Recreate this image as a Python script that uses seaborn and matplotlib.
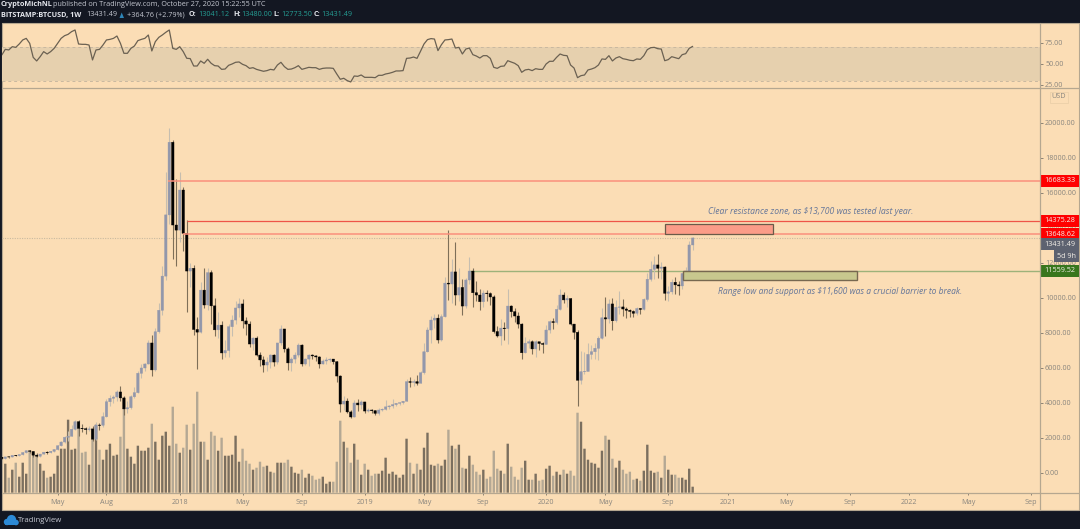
import matplotlib
matplotlib.use('Agg')
import matplotlib.pyplot as plt
from matplotlib.patches import Rectangle, Circle, Polygon
import pandas as pd
import seaborn as sns

# BITSTAMP:BTCUSD weekly, first candle is the week of 2017-01-09
first_open = 900
closes = [
    830, 920, 915, 1010, 1000, 1050, 1170, 1270, 1230, 1020, 960, 1080, 1190, 1170, 1240, 1340,
    1560, 1770, 2040, 2100, 2500, 2930, 2550, 2530, 2480, 2520, 1930, 2740, 2730, 3220, 4070, 4270,
    4340, 4630, 4290, 3660, 3730, 4360, 4590, 5700, 6000, 6230, 7430, 5890, 8070, 9300, 11250, 14750,
    18900, 14170, 13880, 16170, 13700, 11540, 11700, 8200, 8050, 10450, 9600, 11450, 9550, 8180, 8450, 6860,
    7000, 8360, 8740, 9430, 9660, 8690, 8510, 7370, 7710, 6740, 6460, 6170, 6340, 6740, 6340, 7430,
    8230, 7090, 6290, 6510, 6740, 7310, 6230, 6510, 6740, 6690, 6630, 6230, 6400, 6460, 6510, 6360,
    5540, 3940, 4110, 3490, 3200, 4000, 3890, 4060, 3540, 3600, 3560, 3410, 3600, 3640, 3780, 3830,
    3910, 3980, 4020, 4100, 5220, 5180, 5220, 5130, 5730, 6930, 8170, 8740, 8850, 7600, 8930, 10850,
    10800, 11490, 10170, 10600, 9540, 11030, 11540, 10300, 10170, 9790, 10280, 10250, 10060, 8080, 7830, 8280,
    8250, 9540, 9220, 8970, 8510, 6870, 7420, 7500, 7090, 7500, 7400, 7350, 8170, 8650, 8600, 9350,
    10170, 9890, 9970, 8510, 8040, 5300, 5790, 5800, 6780, 6930, 7130, 7700, 8870, 8800, 9660, 8700,
    9470, 9490, 9370, 9300, 9230, 9130, 9400, 9350, 9920, 11070, 11640, 11890, 11700, 11770, 10270, 10350,
    10900, 10750, 10690, 11400, 11540, 13030, 13431]
highs = [
    910, 930, 935, 1025, 1050, 1060, 1190, 1300, 1330, 1250, 1130, 1100, 1210, 1240, 1270, 1370,
    1620, 1810, 2130, 2400, 2750, 3000, 3000, 2780, 2620, 2690, 2700, 2900, 2870, 3480, 4230, 4450,
    4480, 4740, 4980, 4400, 4120, 4450, 4900, 5850, 6200, 6300, 7600, 7900, 8300, 9700, 11800, 17200,
    19700, 19000, 16800, 17200, 16340, 14450, 12000, 11900, 8900, 10900, 11700, 11700, 11600, 10000, 9200, 8700,
    7600, 8500, 9000, 9800, 10000, 9950, 8900, 8700, 7780, 7800, 6900, 6700, 6650, 6800, 6800, 7450,
    8480, 8250, 7180, 6600, 6900, 7400, 7370, 6550, 6780, 6790, 6740, 6700, 6500, 6600, 6550, 6530,
    6400, 5620, 4400, 4270, 3600, 4180, 4250, 4150, 4080, 3730, 3650, 3620, 3690, 3720, 4170, 3900,
    4210, 4020, 4070, 4120, 5350, 5470, 5360, 5620, 5800, 7450, 8350, 8990, 9080, 9100, 9070, 11200,
    13880, 12200, 13200, 11700, 11100, 11150, 12360, 11700, 10950, 10500, 10450, 10450, 10350, 10150, 8420, 8820,
    8650, 10540, 9600, 9400, 9180, 8560, 7770, 7650, 7600, 7590, 7500, 7480, 8450, 8750, 8870, 9580,
    10500, 10350, 10170, 9980, 8350, 8190, 6980, 6900, 7450, 7300, 7450, 7800, 9450, 10080, 9950, 10000,
    9900, 10400, 9950, 9480, 9350, 9300, 9480, 9400, 10000, 11430, 12100, 12400, 12490, 12080, 11800, 10680,
    11100, 11180, 10980, 11450, 11790, 13230, 13480]
lows = [
    800, 790, 880, 905, 950, 985, 1040, 1150, 1130, 940, 890, 890, 1080, 1110, 1160, 1210,
    1340, 1520, 1730, 1850, 2090, 2460, 2100, 2330, 2250, 2420, 1830, 1860, 2470, 2650, 3200, 3850,
    3990, 4100, 4100, 3300, 3420, 3660, 4300, 4550, 5400, 5800, 6200, 5550, 5800, 8000, 9000, 11000,
    14200, 12200, 11800, 13200, 12700, 9200, 10600, 7900, 5920, 8000, 9400, 9300, 8500, 7800, 7700, 6500,
    6600, 6610, 7820, 8500, 8900, 8300, 7900, 7200, 7040, 6700, 6130, 5780, 5800, 6000, 6100, 6250,
    7300, 6900, 5900, 5850, 6300, 6650, 6100, 6160, 6120, 6500, 6400, 6000, 6200, 6220, 6350, 6250,
    5200, 3500, 3600, 3400, 3150, 3180, 3550, 3650, 3450, 3480, 3450, 3300, 3330, 3550, 3600, 3630,
    3700, 3850, 3880, 3950, 4090, 4900, 4950, 5040, 5120, 5650, 6900, 7450, 8300, 7440, 7550, 8900,
    9900, 9700, 9600, 9800, 9050, 9400, 10800, 9500, 9800, 9300, 9500, 9850, 9600, 8000, 7750, 7300,
    7600, 7350, 8900, 8650, 8300, 6500, 6850, 7150, 6800, 6600, 7000, 6850, 7350, 8000, 8250, 8530,
    9300, 9700, 9500, 8450, 7650, 3850, 5100, 5650, 5900, 6530, 6500, 6450, 7630, 7800, 8550, 8150,
    8600, 9100, 8950, 8830, 8900, 8900, 9050, 9100, 9300, 9850, 10950, 11100, 11150, 11100, 9900, 9820,
    10250, 10200, 10150, 10500, 11150, 11200, 12770]
volumes = [
    43, 29, 15, 23, 30, 16, 30, 19, 41, 40, 38, 29, 22, 15, 16, 19, 37, 44, 44, 73, 43, 44, 71, 40, 41, 28, 53, 68,
    43, 33, 43, 49, 37, 38, 56, 84, 44, 36, 29, 47, 42, 42, 45, 69, 51, 33, 57, 61, 47, 86, 49, 40, 45, 68, 43, 69, 101,
    51, 51, 33, 61, 57, 42, 55, 37, 37, 38, 57, 31, 44, 32, 29, 23, 25, 31, 26, 27, 21, 20, 30, 30, 30, 33, 26, 20, 19,
    23, 15, 19, 17, 13, 14, 16, 9, 11, 11, 31, 72, 51, 45, 30, 49, 33, 18, 29, 23, 17, 19, 19, 22, 35, 19, 21, 18, 15,
    18, 54, 30, 19, 29, 23, 45, 60, 28, 27, 29, 27, 33, 63, 47, 44, 48, 25, 24, 37, 28, 21, 18, 23, 14, 16, 42, 24, 22,
    19, 49, 26, 16, 13, 25, 32, 13, 13, 19, 12, 13, 24, 27, 17, 21, 18, 23, 19, 22, 17, 80, 71, 44, 33, 30, 29, 25, 42,
    57, 53, 34, 25, 32, 23, 19, 21, 13, 14, 12, 22, 48, 22, 20, 21, 15, 37, 23, 18, 18, 15, 15, 13, 24, 6]
rsi = [
    60.7, 67.4, 66.7, 70.6, 69.8, 73.8, 78.6, 80.5, 74.6, 57.9, 53.6, 58.7, 64.7, 61.9, 64.7, 68.6, 74.6, 80.5,
    83.7, 85.3, 88.5, 90.5, 73.8, 73.4, 73.4, 72.6, 54.8, 66.7, 67.4, 72.6, 78.6, 79.3, 80.5, 83.3, 74.6, 62.7,
    62.7, 68.6, 71.4, 77.8, 79.3, 80.5, 84.5, 65.5, 76.6, 81.7, 84.5, 87.7, 90.5, 68.6, 67.4, 70.6, 64.7, 56.8,
    56.4, 47.6, 47.6, 53.6, 50.8, 55.6, 50.8, 48.0, 47.6, 43.6, 44.0, 48.4, 50.0, 52.0, 52.4, 49.6, 48.0, 44.8,
    45.6, 43.6, 42.5, 41.3, 42.1, 43.6, 42.9, 48.8, 52.0, 46.8, 43.6, 44.0, 45.6, 48.0, 43.6, 44.8, 46.0, 45.6,
    45.6, 43.6, 44.8, 45.2, 45.2, 44.8, 38.1, 31.8, 33.0, 30.2, 28.6, 35.7, 35.3, 36.9, 34.1, 34.1, 34.1, 33.7,
    36.5, 36.5, 38.1, 38.9, 40.1, 41.7, 41.7,
    42.1, 56.7, 57.1, 58.3, 56.7, 65.1, 73.8, 79.0, 80.2, 79.7, 65.9, 73.0, 78.6, 79.0, 79.7, 69.0, 69.8, 61.9,
    67.8, 69.0, 61.1, 59.5, 57.1, 59.9, 59.9, 56.7, 46.0, 44.8, 47.2, 47.6, 53.9, 52.4, 50.8, 48.0, 40.1, 42.9,
    43.6, 42.1, 44.4, 43.6, 43.6, 50.0, 53.2, 53.2, 57.9, 61.9, 60.3, 59.9, 48.8, 45.2, 33.7, 36.1, 36.9, 42.9,
    44.0, 45.6, 48.8, 56.0, 55.5, 59.9, 53.6, 57.1, 58.7, 56.3, 55.5, 54.4, 53.9, 56.0, 55.5, 59.9, 67.1, 69.4,
    69.8, 68.2, 67.8, 53.9, 55.2, 58.7, 57.5, 56.3, 61.1, 62.3, 68.6, 71.0]

# x axis ticks, as week numbers counted from the first candle
tick_weeks = [16, 30, 51, 69, 86, 104, 121, 138, 156, 173, 191, 208, 225, 243, 260, 277, 295]
tick_labels = ['May', 'Aug', '2018', 'May', 'Sep', '2019', 'May', 'Sep', '2020', 'May', 'Sep', '2021',
               'May', 'Sep', '2022', 'May', 'Sep']
price_ticks = [0, 2000, 4000, 6000, 8000, 10000, 12000, 14000, 16000, 18000, 20000]
rsi_ticks = [25, 50, 75]

BG = '#FBDDB5'
DARK = '#131722'
GRID = '#B5A790'
AXIS_TEXT = '#8A867E'
UP = '#9297AB'
DOWN = '#000000'
UP_WICK = '#C6BEB0'
DOWN_WICK = '#7E6F58'
FONT = 'Open Sans'
SMALL = 5.25

sns.set_theme(style='white')
plt.rcParams['font.family'] = [FONT, 'DejaVu Sans']

weeks = list(range(len(closes)))
opens = [first_open] + closes[:-1]
df = pd.DataFrame({'week': weeks, 'open': opens, 'high': highs, 'low': lows, 'close': closes,
                   'volume': volumes, 'rsi': rsi})
df['up'] = df['close'] >= df['open']

fig = plt.figure(figsize=(10.8, 5.29), dpi=100, facecolor=DARK)


def pane(x0, y0, x1, y1):
    return fig.add_axes([x0 / 1080, (529 - y1) / 529, (x1 - x0) / 1080, (y1 - y0) / 529])


# chrome layer in pixel coordinates
chrome = fig.add_axes([0, 0, 1, 1], zorder=0)
chrome.set_xlim(0, 1080)
chrome.set_ylim(529, 0)
chrome.axis('off')
chrome.add_patch(Rectangle((1.5, 23), 1077, 487, facecolor=BG, edgecolor=GRID, linewidth=0.8))

X_LIM = (0.06, 297.4)

# RSI pane
ax_rsi = pane(2, 23.5, 1039.5, 87.5)
ax_rsi.set_zorder(3)
ax_rsi.patch.set_visible(False)
ax_rsi.axhspan(30, 70, color='#E6D0AE', zorder=1, linewidth=0)
ax_rsi.axhline(70, color='#C9B8A0', linestyle=(0, (3, 3)), linewidth=0.7, zorder=2)
ax_rsi.axhline(30, color='#C9B8A0', linestyle=(0, (3, 3)), linewidth=0.7, zorder=2)
sns.lineplot(data=df, x='week', y='rsi', ax=ax_rsi, color='#6B6152', linewidth=0.9, zorder=3)
ax_rsi.set_xlim(*X_LIM)
ax_rsi.set_ylim(22.0, 98.2)
ax_rsi.set_xticks([])
ax_rsi.set_xlabel('')
ax_rsi.set_ylabel('')
ax_rsi.yaxis.tick_right()
ax_rsi.set_yticks(rsi_ticks)
ax_rsi.set_yticklabels(['%.2f' % t for t in rsi_ticks])
ax_rsi.tick_params(axis='y', right=True, length=2, width=0.7, color='#8C8272', pad=2,
                   labelsize=SMALL, labelcolor=AXIS_TEXT)
sns.despine(ax=ax_rsi, left=True, bottom=True, right=True, top=True)

# price pane, volume sits on its own y scale behind the candles
ax = pane(2, 88, 1039.5, 492.7)
ax_vol = ax.twinx()
ax.set_zorder(2)
ax_vol.set_zorder(1)
ax.patch.set_visible(False)
ax_vol.patch.set_visible(False)

sns.barplot(data=df, x='week', y='volume', hue='up', palette={True: '#80705A', False: '#B9A98F'},
            native_scale=True, dodge=False, width=0.68, errorbar=None, legend=False,
            linewidth=0, ax=ax_vol)
for p in ax_vol.patches:
    p.set_snap(False)
ax_vol.set_ylim(0, 404.7)
ax_vol.set_yticks([])
ax_vol.set_ylabel('')
ax_vol.set_xlabel('')

for up, wick, body in [(True, UP_WICK, UP), (False, DOWN_WICK, DOWN)]:
    part = df[df['up'] == up]
    ax.vlines(part['week'], part['low'], part['high'], color=wick, linewidth=0.8, zorder=2)
    bars = ax.bar(part['week'], part['close'] - part['open'], bottom=part['open'], width=0.7,
                  color=body, edgecolor=body, linewidth=0.3, zorder=3)
    for p in bars:
        p.set_snap(False)

# horizontal levels
ax.axhline(closes[-1], color='#C9BAA0', linestyle=(0, (1, 1.2)), linewidth=0.8, zorder=1)
ax.hlines(16683.33, 47.5, X_LIM[1], color='#FA8F7C', linewidth=1.1, zorder=4)
ax.hlines(14375.28, 53, X_LIM[1], color='#EE5547', linewidth=0.9, zorder=4)
ax.hlines(13648.62, 52, X_LIM[1], color='#FA8F7C', linewidth=1.1, zorder=4)
ax.hlines(11559.52, 134, X_LIM[1], color='#9DB27A', linewidth=1.0, zorder=1)

# marked zones
ax.add_patch(Rectangle((190.1, 13674), 31.0, 536, facecolor='#FB9C88', edgecolor='#6B5A48', linewidth=0.9, zorder=5))
ax.add_patch(Rectangle((195.2, 11011), 50.0, 532, facecolor='#C8C88E', edgecolor='#776850', linewidth=1.0, zorder=5))

ax.set_xlim(*X_LIM)
ax.set_ylim(-1126, 22000)
ax.yaxis.tick_right()
ax.set_yticks(price_ticks)
ax.set_yticklabels(['%.2f' % t for t in price_ticks])
ax.set_xticks(tick_weeks)
ax.set_xticklabels(tick_labels)
ax.tick_params(axis='y', right=True, length=2, width=0.7, color='#8C8272', pad=2,
               labelsize=SMALL, labelcolor=AXIS_TEXT)
ax.tick_params(axis='x', bottom=True, length=1.5, width=0.7, color='#8C8272', pad=3,
               labelsize=SMALL, labelcolor=AXIS_TEXT)
sns.despine(ax=ax, left=True, bottom=True, right=True, top=True)
sns.despine(ax=ax_vol, left=True, bottom=True, right=True, top=True)

# overlay for dividers, badges, header and footer
over = fig.add_axes([0, 0, 1, 1], zorder=6)
over.set_xlim(0, 1080)
over.set_ylim(529, 0)
over.axis('off')

over.plot([1039.5, 1039.5], [23, 510], color=GRID, linewidth=0.9)
over.plot([1.5, 1078.5], [87.5, 87.5], color=GRID, linewidth=0.9)
over.plot([1.5, 1078.5], [492.8, 492.8], color=GRID, linewidth=0.9)

over.text(708, 212, 'Clear resistance zone, as $13,700 was tested last year.', fontsize=6.2,
          style='italic', color='#66779A', va='center', ha='left')
over.text(718, 292, 'Range low and support as $11,600 was a crucial barrier to break.', fontsize=6.15,
          style='italic', color='#66779A', va='center', ha='left')


def badge(y, text, color, x0=1040, x1=1078.5):
    over.add_patch(Rectangle((x0, y - 6), x1 - x0, 12, facecolor=color, edgecolor='none'))
    over.text((x0 + x1) / 2 + 0.5, y, text, color='#F5F0E8', fontsize=SMALL, ha='center', va='center')


badge(181, '16683.33', '#FF0000')
badge(221, '14375.28', '#FF0000')
badge(234, '13648.62', '#FF0000')
badge(244, '13431.49', '#5D6270')
badge(256, '5d 9h', '#5D6270', x0=1054)
badge(270.7, '11559.52', '#38761D')

over.add_patch(Rectangle((1050, 91.5), 18, 11, facecolor='none', edgecolor='#EBCFA8', linewidth=0.6))
over.text(1059, 97, 'USD', color=AXIS_TEXT, fontsize=SMALL, ha='center', va='center')

# header
HEAD = '#E4E6EC'
TEAL = '#259E94'
over.text(1, 5, 'CryptoMichNL', color=HEAD, fontsize=SMALL, fontweight='bold', va='center')
over.text(53, 5, 'published on TradingView.com, October 27, 2020 15:22:55 UTC', color='#C4C7D0',
          fontsize=SMALL, va='center')
over.text(1, 15, 'BITSTAMP:BTCUSD, 1W', color=HEAD, fontsize=SMALL, fontweight='bold', va='center')
over.text(86, 15, '13431.49', color='#C4C7D0', fontsize=SMALL, va='center')
over.add_patch(Polygon([[119.5, 18], [124, 18], [121.7, 12.5]], facecolor='#2E86B8', edgecolor='none'))
over.text(127, 15, '+364.76 (+2.79%)', color='#C4C7D0', fontsize=SMALL, va='center')
for x_lab, lab, x_val, val in [(189, 'O:', 198, '13041.12'), (233, 'H:', 241, '13480.00'),
                               (273, 'L:', 281, '12773.50'), (314, 'C:', 321, '13431.49')]:
    over.text(x_lab, 15, lab, color=HEAD, fontsize=SMALL, fontweight='bold', va='center')
    over.text(x_val, 15, val, color=TEAL, fontsize=SMALL, va='center')

# footer logo
for cx, cy, r in [(7, 522, 3.2), (11.5, 519.5, 4.6), (16, 522.5, 2.8)]:
    over.add_patch(Circle((cx, cy), r, facecolor='#2C8AD6', edgecolor='none'))
over.add_patch(Rectangle((5, 522), 11, 3.2, facecolor='#2C8AD6', edgecolor='none'))
over.text(18, 520.5, 'TradingView', color='#C4C7D0', fontsize=5.6, va='center')

fig.savefig('out.png', dpi=100, facecolor=DARK)
